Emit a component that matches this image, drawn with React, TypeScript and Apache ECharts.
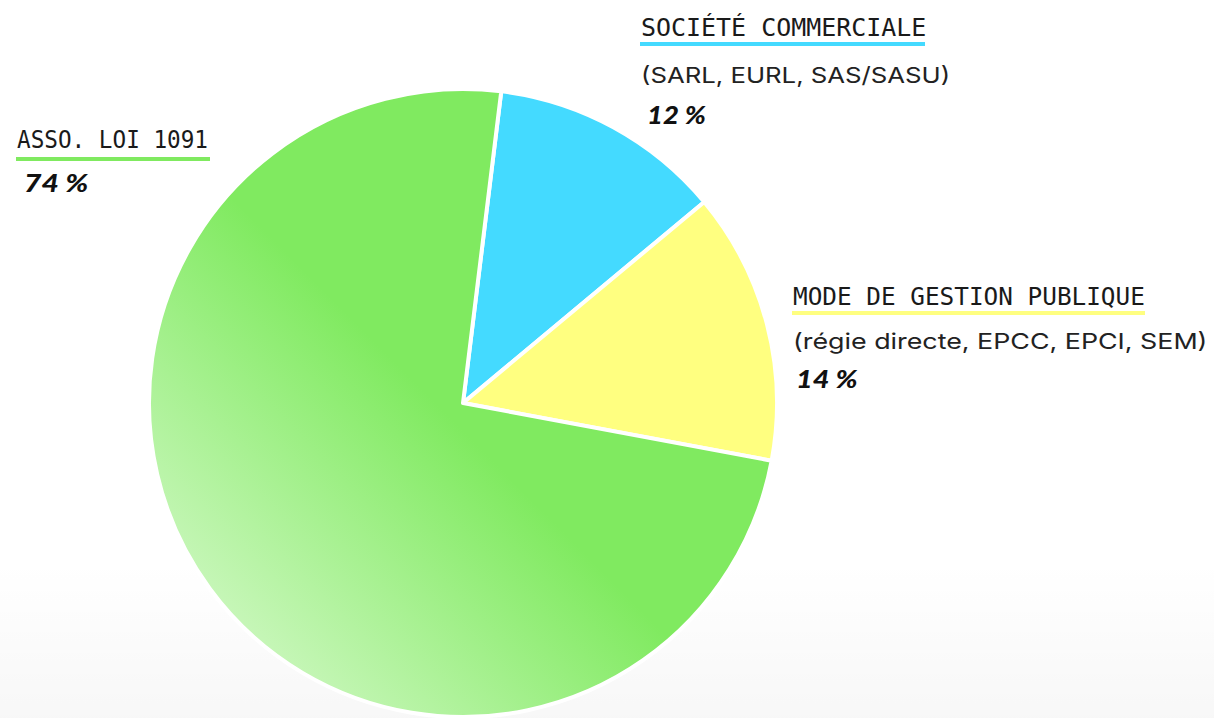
import React, { useEffect, useRef } from "react";
import * as echarts from "echarts";

const categories = ["Société commerciale", "Mode de gestion publique", "Asso. loi 1091"];
const subtitles = ["(SARL, EURL, SAS/SASU)", "(régie directe, EPCC, EPCI, SEM)", ""];
const values = [12, 14, 74];
const percentLabels = ["12 %", "14 %", "74 %"];

const COLORS = ["#44DAFF", "#FFFF80", "#80EA60"];

// label layout (positions / sizes only)
const labelPos = [
  { x: 641, titleY: 28, titleSX: 1.04, lineY: 42, lineW: 285, subY: 75, subSX: 1.17, pctX: 647, pctY: 114, pctSX: 1.1 },
  { x: 793, titleY: 297, titleSX: 1.015, lineY: 311, lineW: 353, subY: 341, subSX: 1.22, pctX: 796, pctY: 378, pctSX: 1.15 },
  { x: 17, titleY: 140, titleSX: 0.945, lineY: 157, lineW: 194, subY: 0, subSX: 1, pctX: 24, pctY: 182, pctSX: 1.2 },
];

export default function App() {
  const ref = useRef<HTMLDivElement>(null);
  useEffect(() => {
    if (!ref.current) return;
    const chart = echarts.init(ref.current, null, { renderer: "svg" });
    const graphics: any[] = [
      {
        type: "rect",
        z: -10,
        shape: { x: 0, y: 560, width: 1214, height: 158 },
        style: {
          fill: new echarts.graphic.LinearGradient(0, 0, 0, 1, [
            { offset: 0, color: "rgba(0,0,0,0)" },
            { offset: 1, color: "rgba(0,0,0,0.03)" },
          ]),
        },
      },
    ];
    categories.forEach((name, i) => {
      const p = labelPos[i];
      graphics.push({
        type: "text",
        x: p.x,
        y: p.titleY,
        scaleX: p.titleSX,
        style: {
          text: name.toUpperCase(),
          font: "normal 24px 'DejaVu Sans Mono'",
          fill: "#1a1a1a",
          verticalAlign: "middle",
          align: "left",
        },
      });
      graphics.push({
        type: "rect",
        shape: { x: p.x - 1, y: p.lineY, width: p.lineW, height: 4 },
        style: { fill: COLORS[i] },
      });
      if (subtitles[i]) {
        graphics.push({
          type: "text",
          x: p.x,
          y: p.subY,
          scaleX: p.subSX,
          style: {
            text: subtitles[i],
            font: "normal 22px Inter",
            fill: "#222",
            verticalAlign: "middle",
            align: "left",
          },
        });
      }
      graphics.push({
        type: "text",
        x: p.pctX,
        y: p.pctY,
        scaleX: p.pctSX,
        style: {
          text: percentLabels[i],
          font: "italic 900 25px Lato",
          fill: "#111",
          verticalAlign: "middle",
          align: "left",
        },
      });
    });

    chart.setOption({
      animation: false,
      backgroundColor: "#ffffff",
      graphic: graphics,
      series: [
        {
          type: "pie",
          center: [463, 403],
          radius: 314,
          startAngle: 83,
          clockwise: true,
          label: { show: false },
          labelLine: { show: false },
          emphasis: { disabled: true },
          itemStyle: { borderColor: "#ffffff", borderWidth: 4 },
          data: values.map((v, i) => ({
            name: categories[i],
            value: v,
            itemStyle: {
              color:
                i === 2
                  ? new echarts.graphic.LinearGradient(0, 1, 1, 0, [
                      { offset: 0.1, color: "#D0F8C4" },
                      { offset: 0.48, color: "#80EA60" },
                      { offset: 1, color: "#80EA60" },
                    ])
                  : COLORS[i],
            },
          })),
        },
      ],
    });
    return () => chart.dispose();
  }, []);
  return (
    <div
      ref={ref}
      style={{ position: "fixed", left: 0, top: 0, width: 1214, height: 718 }}
    />
  );
}
